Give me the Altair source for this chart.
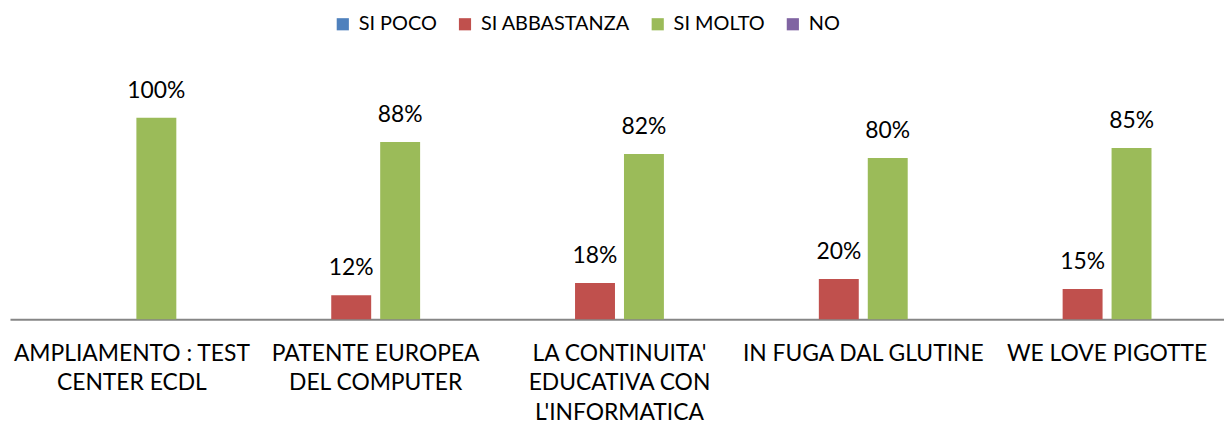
import altair as alt
import pandas as pd

categories = [
    "AMPLIAMENTO : TEST|CENTER ECDL",
    "PATENTE EUROPEA|DEL COMPUTER",
    "LA CONTINUITA'|EDUCATIVA CON|L'INFORMATICA",
    "IN FUGA DAL GLUTINE",
    "WE LOVE PIGOTTE",
]
series = ["SI POCO", "SI ABBASTANZA", "SI MOLTO", "NO"]
colors = ["#4F81BD", "#C0504D", "#9BBB59", "#8064A2"]

si_poco = [None, None, None, None, None]
si_abbastanza = [None, 12, 18, 20, 15]
si_molto = [100, 88, 82, 80, 85]
no = [None, None, None, None, None]

rows = []
for s, vals in zip(series, [si_poco, si_abbastanza, si_molto, no]):
    for c, v in zip(categories, vals):
        if v is not None:
            rows.append({"cat": c, "serie": s, "val": v})
df = pd.DataFrame(rows)

FONT = "Lato"

x_enc = alt.X(
    "cat:N",
    sort=categories,
    scale=alt.Scale(paddingInner=0.234, paddingOuter=0.117, range=[0, 1227]),
    axis=alt.Axis(
        title=None,
        labelExpr="split(datum.label, '|')",
        labelAngle=0,
        ticks=False,
        domainColor="#868686",
        domainWidth=2,
        labelFont=FONT,
        labelFontSize=23,
        labelColor="black",
        labelLineHeight=30,
        labelPadding=23,
        labelLimit=400,
        labelOverlap=False,
        labelBaseline="top",
    ),
)
xoff_enc = alt.XOffset(
    "serie:N",
    scale=alt.Scale(domain=series, paddingInner=0.184, paddingOuter=0),
)
y_enc = alt.Y("val:Q", scale=alt.Scale(domain=[0, 140]), axis=None)

base = alt.Chart(df).encode(x=x_enc, xOffset=xoff_enc, y=y_enc)

bars = base.mark_bar().encode(
    color=alt.Color(
        "serie:N",
        scale=alt.Scale(domain=series, range=colors),
        legend=alt.Legend(
            title=None,
            orient="none",
            direction="horizontal",
            columns=4,
            legendX=325,
            legendY=-23,
            symbolType="square",
            symbolSize=150,
            symbolStrokeWidth=0,
            labelFont=FONT,
            labelFontSize=20,
            labelColor="black",
            columnPadding=18,
            labelOffset=6,
        ),
    )
)

labels = base.mark_text(
    dy=-20, baseline="alphabetic", font=FONT, fontSize=23, color="black"
).transform_calculate(label="datum.val + '%'").encode(text="label:N")

chart = (
    alt.layer(bars, labels)
    .properties(
        width=1222,
        height=284,
        autosize=alt.AutoSizeParams(type="none"),
        padding={"left": 2, "top": 28, "right": 0, "bottom": 105},
    )
    .configure_view(stroke=None)
)

chart.save("out.html", embed_options={"renderer": "svg", "actions": False})
